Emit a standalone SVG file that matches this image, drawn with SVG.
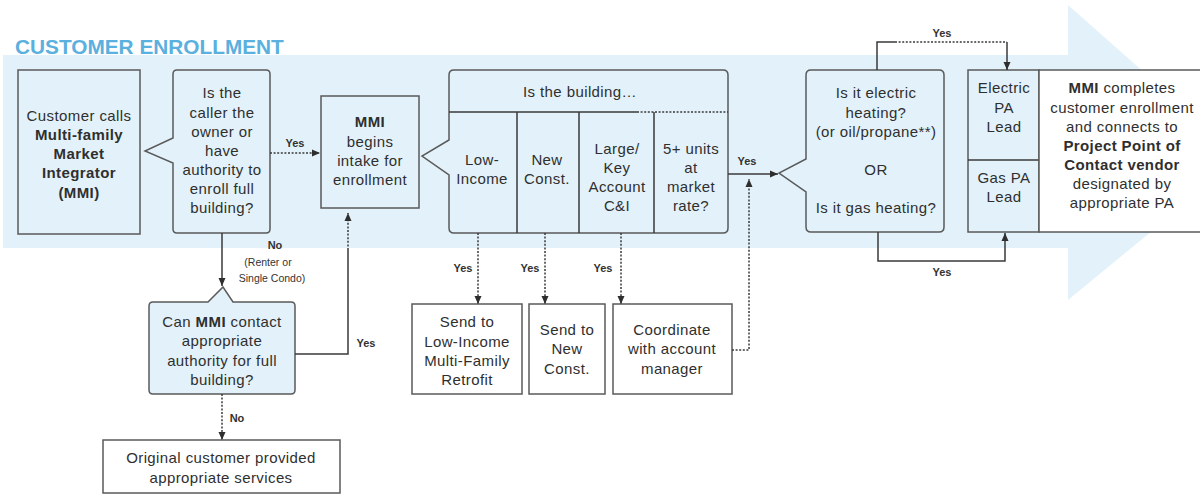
<svg xmlns="http://www.w3.org/2000/svg" width="1200" height="495" viewBox="0 0 1200 495">
<defs>
<marker id="ah" markerUnits="userSpaceOnUse" markerWidth="10" markerHeight="10" viewBox="0 0 10 10" refX="9" refY="5" orient="auto">
<path d="M1,1.5 L9,5 L1,8.5 Z" fill="#2e2e2e"/>
</marker>
<style>
.bg{fill:#e3f2fa}
.box{fill:#e3f2fa;stroke:#5a5a5a;stroke-width:1.5}
.wbox{fill:#ffffff;stroke:#5a5a5a;stroke-width:1.5}
.ln{fill:none;stroke:#3a3a3a;stroke-width:1.5}
.dl{fill:none;stroke:#3a3a3a;stroke-width:1.5;stroke-dasharray:2 1.6}
.t{font-family:"Liberation Sans",Arial,sans-serif;font-size:15px;letter-spacing:0.4px;fill:#2f2f2f;text-anchor:middle}
.b{font-weight:bold}
.lb{font-family:"Liberation Sans",Arial,sans-serif;font-size:11px;font-weight:bold;fill:#333333;text-anchor:middle}
.ls{font-family:"Liberation Sans",Arial,sans-serif;font-size:10.5px;fill:#333333;text-anchor:middle}
.title{font-family:"Liberation Sans",Arial,sans-serif;font-size:20.8px;font-weight:bold;fill:#5ab0de}
</style>
</defs>

<g id="background">
<path class="bg" d="M3,55 H1068 V5 L1241,158 L1068,300 V248 H3 Z"/>
<text class="title" x="15" y="54">CUSTOMER ENROLLMENT</text>
</g>

<g id="node-customer-calls">
<rect class="box" x="18" y="70" width="122" height="164"/>
<text class="t" x="79" y="121">Customer calls</text>
<text class="t b" x="79" y="140">Multi-family</text>
<text class="t b" x="79" y="159">Market</text>
<text class="t b" x="79" y="178">Integrator</text>
<text class="t b" x="79" y="198">(MMI)</text>
</g>

<g id="node-is-caller-owner">
<path class="box" d="M177,70 H266 Q270,70 270,74 V229 Q270,233 266,233 H177 Q173,233 173,229 V163 L145,151 L173,138 V74 Q173,70 177,70 Z"/>
<text class="t" x="222" y="98">Is the</text>
<text class="t" x="222" y="118">caller the</text>
<text class="t" x="222" y="137">owner or</text>
<text class="t" x="222" y="156">have</text>
<text class="t" x="222" y="175">authority to</text>
<text class="t" x="222" y="194">enroll full</text>
<text class="t" x="222" y="213">building?</text>
</g>

<g id="node-mmi-intake">
<rect class="box" x="321" y="96" width="98" height="112"/>
<text class="t b" x="370" y="127">MMI</text>
<text class="t" x="370" y="147">begins</text>
<text class="t" x="370" y="166">intake for</text>
<text class="t" x="370" y="185">enrollment</text>
</g>

<g id="node-is-the-building">
<path class="box" d="M454,70 H723 Q728,70 728,75 V228 Q728,233 723,233 H454 Q449,233 449,228 V175 L422,156 L449,140 V75 Q449,70 454,70 Z"/>
<path class="ln" d="M449,112 H637"/>
<path class="dl" d="M637,112 H728"/>
<path class="ln" d="M517,112 V233 M579,112 V233 M654,112 V233"/>
<text class="t" x="580" y="97">Is the building…</text>
<text class="t" x="482" y="165">Low-</text>
<text class="t" x="482" y="184">Income</text>
<text class="t" x="547" y="165">New</text>
<text class="t" x="547" y="184">Const.</text>
<text class="t" x="617" y="154">Large/</text>
<text class="t" x="617" y="173">Key</text>
<text class="t" x="617" y="192">Account</text>
<text class="t" x="617" y="211">C&amp;I</text>
<text class="t" x="691" y="154">5+ units</text>
<text class="t" x="691" y="173">at</text>
<text class="t" x="691" y="192">market</text>
<text class="t" x="691" y="211">rate?</text>
</g>

<g id="node-heating">
<path class="box" d="M811,70 H939 Q944,70 944,75 V227 Q944,232 939,232 H811 Q806,232 806,227 V192 L779,173 L806,159 V75 Q806,70 811,70 Z"/>
<text class="t" x="876" y="98">Is it electric</text>
<text class="t" x="876" y="118">heating?</text>
<text class="t" x="876" y="137">(or oil/propane**)</text>
<text class="t" x="876" y="175">OR</text>
<text class="t" x="876" y="213">Is it gas heating?</text>
</g>

<g id="node-pa-lead">
<rect class="box" x="968" y="70" width="71" height="162"/>
<path class="ln" d="M968,160 H1039"/>
<text class="t" x="1004" y="93">Electric</text>
<text class="t" x="1004" y="113">PA</text>
<text class="t" x="1004" y="132">Lead</text>
<text class="t" x="1004" y="183">Gas PA</text>
<text class="t" x="1004" y="202">Lead</text>
</g>

<g id="node-mmi-completes">
<rect class="wbox" x="1039" y="70" width="170" height="162"/>
<text class="t" x="1122" y="93"><tspan class="b">MMI</tspan> completes</text>
<text class="t" x="1122" y="113">customer enrollment</text>
<text class="t" x="1122" y="132">and connects to</text>
<text class="t b" x="1122" y="151">Project Point of</text>
<text class="t b" x="1122" y="170">Contact vendor</text>
<text class="t" x="1122" y="189">designated by</text>
<text class="t" x="1122" y="208">appropriate PA</text>
</g>

<g id="node-can-mmi-contact">
<path class="box" d="M153,302 H208 L223,287 L233,302 H291 Q295,302 295,306 V390 Q295,394 291,394 H153 Q149,394 149,390 V306 Q149,302 153,302 Z"/>
<text class="t" x="222" y="327">Can <tspan class="b">MMI</tspan> contact</text>
<text class="t" x="222" y="346">appropriate</text>
<text class="t" x="222" y="366">authority for full</text>
<text class="t" x="222" y="385">building?</text>
</g>

<g id="node-original-customer">
<rect class="wbox" x="103" y="440" width="237" height="53"/>
<text class="t" x="221" y="463">Original customer provided</text>
<text class="t" x="221" y="483">appropriate services</text>
</g>

<g id="node-send-low-income">
<rect class="wbox" x="412" y="304" width="110" height="90"/>
<text class="t" x="467" y="327">Send to</text>
<text class="t" x="467" y="347">Low-Income</text>
<text class="t" x="467" y="366">Multi-Family</text>
<text class="t" x="467" y="385">Retrofit</text>
</g>

<g id="node-send-new-const">
<rect class="wbox" x="529" y="304" width="76" height="90"/>
<text class="t" x="567" y="335">Send to</text>
<text class="t" x="567" y="354">New</text>
<text class="t" x="567" y="374">Const.</text>
</g>

<g id="node-coordinate">
<rect class="wbox" x="613" y="304" width="119" height="90"/>
<text class="t" x="672" y="335">Coordinate</text>
<text class="t" x="672" y="354">with account</text>
<text class="t" x="672" y="374">manager</text>
</g>

<g id="connectors">
<path class="dl" d="M270,153 H320" marker-end="url(#ah)"/>
<text class="lb" x="295" y="147">Yes</text>

<path class="ln" d="M222,233 V286" marker-end="url(#ah)"/>
<text class="lb" x="275" y="249">No</text>
<text class="ls" x="268" y="266">(Renter or</text>
<text class="ls" x="272" y="282">Single Condo)</text>

<path class="ln" d="M295,354 H348 V250"/>
<path class="dl" d="M348,250 V213" marker-end="url(#ah)"/>
<text class="lb" x="366" y="347">Yes</text>

<path class="dl" d="M222,394 V440" marker-end="url(#ah)"/>
<text class="lb" x="237" y="422">No</text>

<path class="ln" d="M728,174 H778" marker-end="url(#ah)"/>
<text class="lb" x="747" y="165">Yes</text>

<path class="dl" d="M732,350 H749 V179" marker-end="url(#ah)"/>

<path class="dl" d="M478,233 V304" marker-end="url(#ah)"/>
<text class="lb" x="463" y="272">Yes</text>
<path class="dl" d="M545,233 V304" marker-end="url(#ah)"/>
<text class="lb" x="530" y="272">Yes</text>
<path class="dl" d="M621,233 V304" marker-end="url(#ah)"/>
<text class="lb" x="603" y="272">Yes</text>

<path class="ln" d="M877,70 V42 H895"/>
<path class="dl" d="M895,42 H1007"/>
<path class="ln" d="M1007,42 V70" marker-end="url(#ah)"/>
<text class="lb" x="942" y="37">Yes</text>

<path class="ln" d="M878,232 V261 H1005 V233" marker-end="url(#ah)"/>
<text class="lb" x="942" y="276">Yes</text>
</g>
</svg>
